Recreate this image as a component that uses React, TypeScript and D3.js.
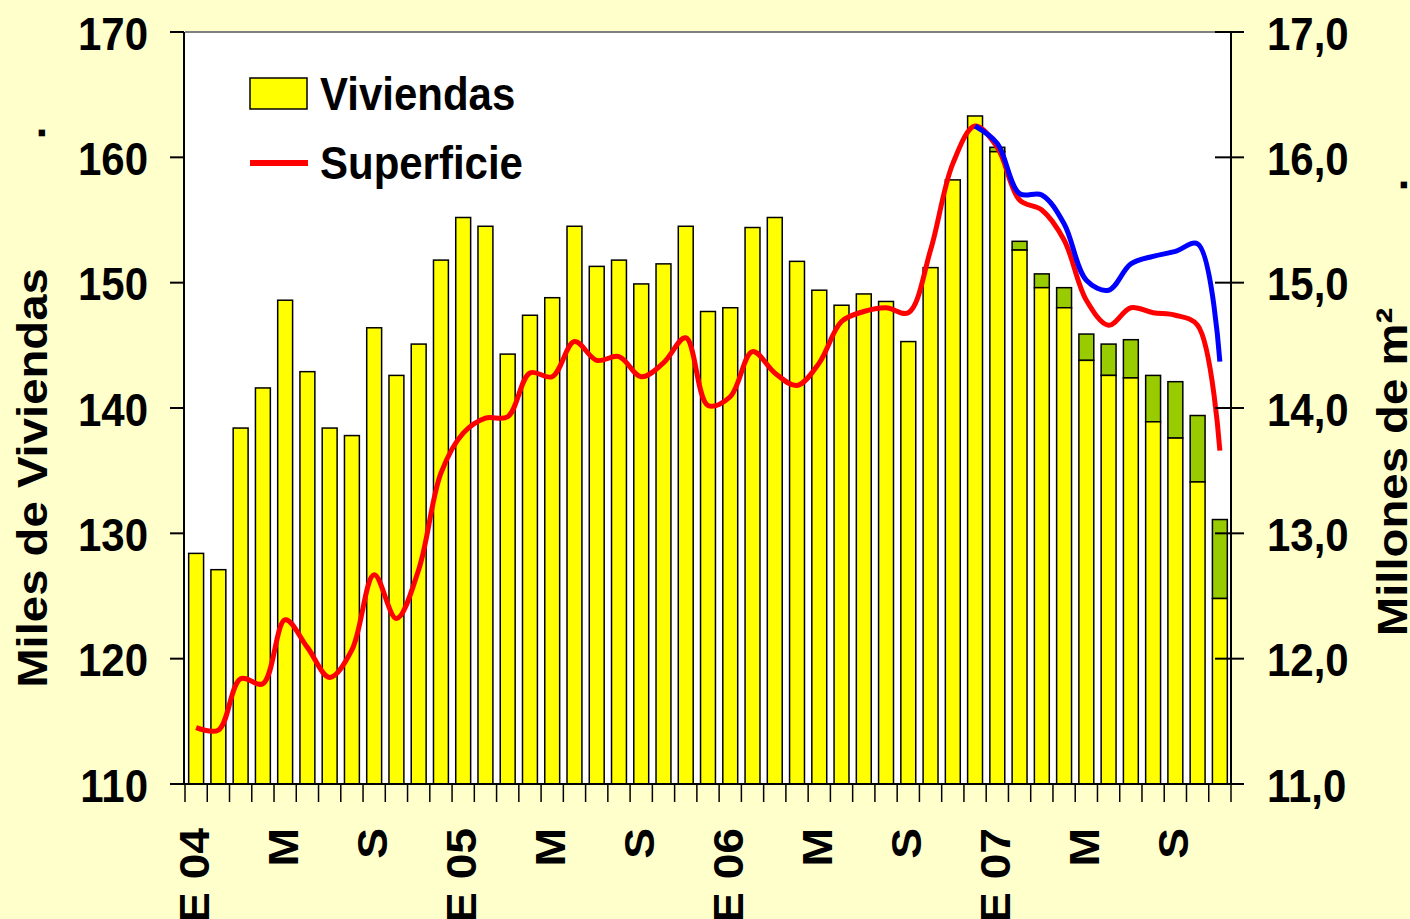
import React from "react";
import * as d3 from "d3";

// Viviendas (miles), parte amarilla de cada barra, E 04 .. N 07
const viviendas = [
  128.4, 127.1, 138.4, 141.6, 148.6, 142.9, 138.4, 137.8, 146.4, 142.6, 145.1, 151.8,
  155.2, 154.5, 144.3, 147.4, 148.8, 154.5, 151.3, 151.8, 149.9, 151.5, 154.5, 147.7,
  148.0, 154.4, 155.2, 151.7, 149.4, 148.2, 149.1, 148.5, 145.3, 151.2, 158.2, 163.3,
  160.45, 152.6, 149.6, 148.0, 143.8, 142.6, 142.4, 138.9, 137.6, 134.1, 124.8,
];

// Altura total de la barra (tramo verde encima), solo en los últimos meses
const viviendasTotal = [
  null, null, null, null, null, null, null, null, null, null, null, null,
  null, null, null, null, null, null, null, null, null, null, null, null,
  null, null, null, null, null, null, null, null, null, null, null, null,
  160.8, 153.3, 150.7, 149.6, 145.9, 145.1, 145.45, 142.6, 142.1, 139.4, 131.1,
];

// Superficie (millones de m²), eje derecho
const superficie = [
  11.45, 11.43, 11.84, 11.8, 12.31, 12.09, 11.85, 12.07, 12.67, 12.32, 12.71, 13.48,
  13.8, 13.92, 13.93, 14.28, 14.25, 14.53, 14.38, 14.41, 14.25, 14.36, 14.56, 14.02,
  14.09, 14.45, 14.28, 14.18, 14.36, 14.69, 14.77, 14.8, 14.76, 15.26, 15.95, 16.25,
  16.08, 15.66, 15.58, 15.34, 14.86, 14.66, 14.8, 14.76, 14.74, 14.66, 13.66,
];

// Serie azul (desde D 06)
const superficieAzul = [
  null, null, null, null, null, null, null, null, null, null, null, null,
  null, null, null, null, null, null, null, null, null, null, null, null,
  null, null, null, null, null, null, null, null, null, null, null, 16.25,
  16.11, 15.71, 15.7, 15.47, 15.02, 14.94, 15.15, 15.21, 15.25, 15.31, 14.37,
];

// etiquetas cada 4 meses
const xLabels = ["E 04", "M", "S", "E 05", "M", "S", "E 06", "M", "S", "E 07", "M", "S"];
const leftTicks = [110, 120, 130, 140, 150, 160, 170];
const rightTicks = [11, 12, 13, 14, 15, 16, 17];

const W = 1410;
const H = 919;
const FONT = "'Liberation Sans', Arial, Helvetica, sans-serif";
const STRETCH = 1.1;

export default function App() {
  const left = 185;
  const right = 1231;
  const top = 32;
  const bottom = 784;

  const idx = d3.range(viviendas.length);
  const x = d3
    .scaleBand<number>()
    .domain(idx)
    .range([left, right])
    .paddingInner(0.33)
    .paddingOuter(0.165);
  const step = x.step();
  const cx = (i: number) => (x(i) as number) + x.bandwidth() / 2;

  const yL = d3.scaleLinear().domain([110, 170]).range([bottom, top]);
  const yR = d3.scaleLinear().domain([11, 17]).range([bottom, top]);

  const line = d3
    .line<number | null>()
    .defined((d) => d != null)
    .x((_, i) => cx(i))
    .y((d) => yR(d as number))
    .curve(d3.curveCatmullRom.alpha(0.5));

  const blueLine = d3
    .line<[number, number]>()
    .x((d) => cx(d[0]))
    .y((d) => yR(d[1]))
    .curve(d3.curveCatmullRom.alpha(0.5));
  const bluePts = superficieAzul
    .map((v, i) => [i, v] as [number, number | null])
    .filter((d) => d[1] != null) as [number, number][];

  const txt = (
    x0: number,
    y0: number,
    s: string,
    opts: { size?: number; anchor?: string; rotate?: boolean } = {}
  ) => (
    <text
      transform={`translate(${x0},${y0}) scale(1,${STRETCH})${opts.rotate ? " rotate(-90)" : ""}`}
      fontSize={opts.size ?? 42}
      fontWeight="bold"
      fontFamily={FONT}
      textAnchor={opts.anchor ?? "start"}
      fill="#000"
    >
      {s}
    </text>
  );

  return (
    <svg
      width={W}
      height={H}
      style={{ position: "absolute", left: 0, top: 0, display: "block" }}
    >
      <rect x={0} y={0} width={W} height={H} fill="#FFFFCC" />
      <rect x={left} y={top} width={right - left} height={bottom - top} fill="#fff" />
      <line x1={left} x2={right} y1={top} y2={top} stroke="#808080" strokeWidth={2} />

      {/* barras */}
      {idx.map((i) => {
        const bx = x(i) as number;
        const bw = x.bandwidth();
        const tot = viviendasTotal[i];
        return (
          <g key={i}>
            {tot != null && (
              <rect
                x={bx}
                y={yL(tot)}
                width={bw}
                height={yL(viviendas[i]) - yL(tot)}
                fill="#99CC00"
                stroke="#000"
                strokeWidth={1.5}
              />
            )}
            <rect
              x={bx}
              y={yL(viviendas[i])}
              width={bw}
              height={bottom - yL(viviendas[i])}
              fill="#FFFF00"
              stroke="#000"
              strokeWidth={1.5}
            />
          </g>
        );
      })}

      <path d={line(superficie) ?? ""} fill="none" stroke="#FF0000" strokeWidth={5} strokeLinejoin="round" />
      <path d={blueLine(bluePts) ?? ""} fill="none" stroke="#0000FF" strokeWidth={5} strokeLinejoin="round" />

      {/* ejes */}
      <line x1={left - 1} x2={left - 1} y1={top} y2={bottom} stroke="#000" strokeWidth={2} />
      <line x1={right} x2={right} y1={top} y2={bottom} stroke="#000" strokeWidth={2} />
      <line x1={left - 2} x2={right + 1} y1={bottom} y2={bottom} stroke="#000" strokeWidth={2} />

      {d3.range(viviendas.length + 1).map((k) => (
        <line
          key={"xt" + k}
          x1={left + k * step}
          x2={left + k * step}
          y1={bottom}
          y2={bottom + 18}
          stroke="#000"
          strokeWidth={1.5}
        />
      ))}
      {xLabels.map((l, j) => (
        <g key={"xl" + j}>{txt(cx(j * 4) + 13, 828, l, { anchor: "end", rotate: true })}</g>
      ))}

      {leftTicks.map((t) => (
        <g key={"lt" + t}>
          <line x1={170} x2={left - 1} y1={yL(t)} y2={yL(t)} stroke="#000" strokeWidth={2} />
          {txt(148, yL(t) + 17.5, String(t), { anchor: "end" })}
        </g>
      ))}
      {rightTicks.map((t) => (
        <g key={"rt" + t}>
          <line x1={1215} x2={1244} y1={yR(t)} y2={yR(t)} stroke="#000" strokeWidth={2} />
          {txt(1267, yR(t) + 17.5, d3.format(".1f")(t).replace(".", ","))}
        </g>
      ))}

      {/* títulos de ejes */}
      {txt(47, 478, "Miles de Viviendas", { size: 43, anchor: "middle", rotate: true })}
      {txt(45, 133, ".", { size: 43, anchor: "middle", rotate: true })}
      {txt(1407, 472, "Millones de m²", { size: 43, anchor: "middle", rotate: true })}
      {txt(1407, 185, ".", { size: 43, anchor: "middle", rotate: true })}

      {/* leyenda */}
      <rect x={250} y={78} width={57} height={31} fill="#FFFF00" stroke="#000" strokeWidth={1.5} />
      {txt(320, 110, "Viviendas")}
      <line x1={250} x2={308} y1={163} y2={163} stroke="#FF0000" strokeWidth={6} />
      {txt(320, 179, "Superficie")}
    </svg>
  );
}
